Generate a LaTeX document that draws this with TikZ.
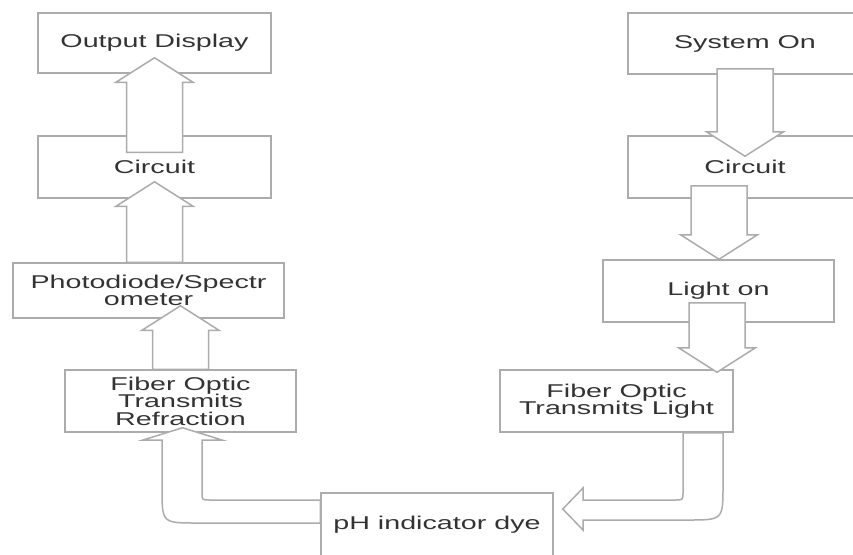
\documentclass[tikz,border=0pt]{standalone}
\usepackage{fontspec}
\setmainfont{Liberation Sans}[FakeStretch=1.55]
\usetikzlibrary{calc}

% wide hollow arrow from a tail point to a tip straight above or below it
\newcommand{\fatarrow}[2]{%
  \draw[blockline] ($(#1)+(-28,0)$) -- ($(#2)!24.5pt!(#1)+(-28,0)$)
    -- ($(#2)!24.5pt!(#1)+(-38.5,0)$) -- (#2)
    -- ($(#2)!24.5pt!(#1)+(38.5,0)$) -- ($(#2)!24.5pt!(#1)+(28,0)$)
    -- ($(#1)+(28,0)$) -- cycle;}

\begin{document}
\begin{tikzpicture}
        [x=1pt,y=-1pt,
        box/.style={draw=gray!65, line width=1.5pt, inner sep=0pt, align=center,
          text=black!80, font={\fontsize{18.5}{17.5}\selectfont}},
        blockline/.style={draw=gray!65, line width=1.5pt, fill=white, line join=miter},
        ]
        \useasboundingbox (0,0) rectangle (853,554);
        \clip (0,0) rectangle (853,554);

        % left column
        \node[box, minimum width=233, minimum height=60] (outL) at (154.5,43) {Output Display};
        \node[box, minimum width=233, minimum height=62] (circL) at (154.5,167) {Circuit};
        \node[box, minimum width=271, minimum height=55] (photo) at (148.5,290.5) {Photodiode/Spectr\\ometer};
        \node[box, minimum width=231, minimum height=62] (fibR) at (180.5,401) {Fiber Optic\\Transmits\\Refraction};

        % right column
        \node[box, minimum width=234, minimum height=61] (sys) at (745,43.5) {System On};
        \node[box, minimum width=234, minimum height=62] (circR) at (745,167) {Circuit};
        \node[box, minimum width=231, minimum height=62] (light) at (718.5,291) {Light on};
        \node[box, minimum width=233, minimum height=62] (fibL) at (616.5,401) {Fiber Optic\\Transmits Light};

        \node[box, minimum width=232, minimum height=64] (ph) at (437,525) {pH indicator dye};

        \coordinate (a1) at ($(circL.north)+(0,17)$);
        \coordinate (b1) at ($(a1 |- outL.south)+(0,-16)$);
        \coordinate (a2) at ($(photo.north)+(6,0)$);
        \coordinate (b2) at ($(a2 |- circL.south)+(0,-17)$);
        \coordinate (a3) at (fibR.north);
        \coordinate (b3) at ($(a3 |- photo.south)+(0,-13)$);
        \coordinate (a4) at ($(sys.south)+(0,-6)$);
        \coordinate (b4) at ($(a4 |- circR.north)+(0,21)$);
        \coordinate (a5) at ($(circR.south)+(-26,-13)$);
        \coordinate (b5) at (a5 |- light.north);
        \coordinate (a6) at ($(light.south)+(-1.5,-20)$);
        \coordinate (b6) at ($(a6 |- fibL.north)+(0,3)$);

        \foreach \t/\h in {a1/b1, a2/b2, a3/b3, a4/b4, a5/b5, a6/b6}
          \fatarrow{\t}{\h};

        % bent arrows round the bottom
        \draw[blockline] (ph.west |- 0,500) -- (210,500) .. controls (202,500) .. (202,492)
          -- (202,440) -- (222,440) -- ($(fibR.south)+(2,-5)$) -- (143,440) -- (162,440)
          -- (162,488) .. controls (162,523) .. (197,523) -- (ph.west |- 0,523) -- cycle;
        \draw[blockline] (fibL.south -| 683,0) -- (683,492) .. controls (683,500) .. (675,500)
          -- (583,500) -- (583,488) -- ($(ph.east)+(9,-16)$) -- (583,530) -- (583,520)
          -- (688,520) .. controls (723,520) .. (723,485) -- (fibL.south -| 723,0) -- cycle;
\end{tikzpicture}
\end{document}
